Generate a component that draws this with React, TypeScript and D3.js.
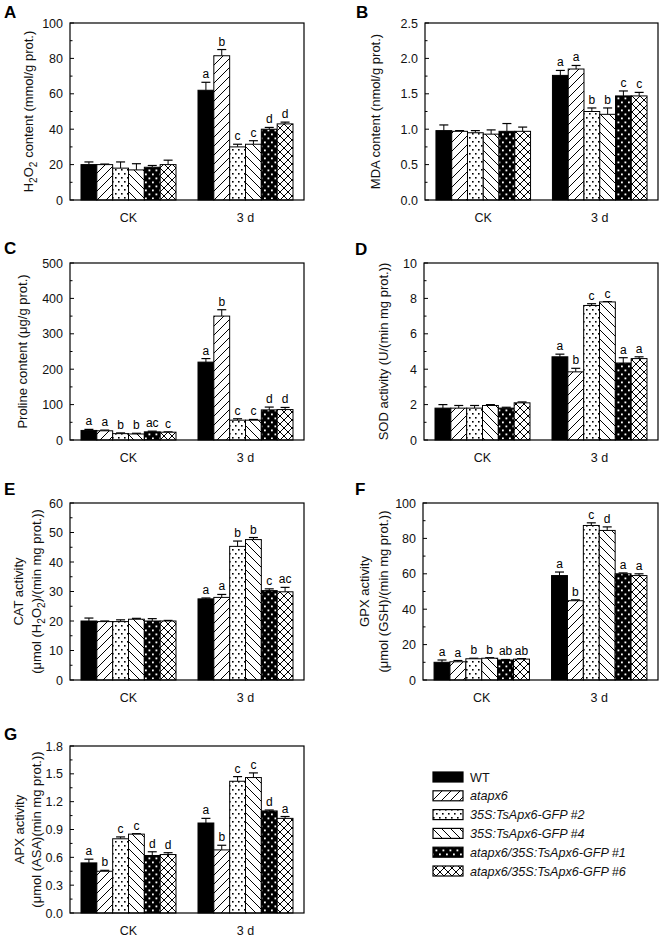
import React from "react";
import * as d3 from "d3";

const groups = ["CK", "3 d"];
const seriesNames = [
  "WT",
  "atapx6",
  "35S:TsApx6-GFP #2",
  "35S:TsApx6-GFP #4",
  "atapx6/35S:TsApx6-GFP #1",
  "atapx6/35S:TsApx6-GFP #6",
];

// A: H2O2
const h2o2Values = [[20, 20, 18, 17, 18.5, 20], [62, 81.5, 30, 31.5, 40, 43]];
const h2o2Errors = [[1.5, 0.3, 3.5, 3.5, 1, 2.5], [4.5, 3.5, 1.5, 2, 1, 1]];
const h2o2Letters = [["", "", "", "", "", ""], ["a", "b", "c", "c", "d", "d"]];
const h2o2Ticks = [0, 20, 40, 60, 80, 100];

// B: MDA
const mdaValues = [[0.98, 0.97, 0.95, 0.93, 0.97, 0.97], [1.76, 1.85, 1.25, 1.21, 1.47, 1.47]];
const mdaErrors = [[0.08, 0.01, 0.03, 0.06, 0.11, 0.06], [0.07, 0.05, 0.05, 0.09, 0.07, 0.05]];
const mdaLetters = [["", "", "", "", "", ""], ["a", "a", "b", "b", "c", "c"]];
const mdaTicks = [0, 0.5, 1.0, 1.5, 2.0, 2.5];

// C: Proline
const prolineValues = [[27, 26, 18, 17, 23, 22], [220, 350, 56, 56, 85, 86]];
const prolineErrors = [[3, 2, 2, 2, 2, 1], [10, 18, 4, 2, 8, 6]];
const prolineLetters = [["a", "a", "b", "b", "ac", "c"], ["a", "b", "c", "c", "d", "d"]];
const prolineTicks = [0, 100, 200, 300, 400, 500];

// D: SOD
const sodValues = [[1.8, 1.8, 1.8, 1.95, 1.8, 2.1], [4.7, 3.85, 7.6, 7.8, 4.35, 4.6]];
const sodErrors = [[0.2, 0.15, 0.15, 0.05, 0.05, 0.05], [0.15, 0.2, 0.1, 0.02, 0.3, 0.1]];
const sodLetters = [["", "", "", "", "", ""], ["a", "b", "c", "c", "a", "a"]];
const sodTicks = [0, 2, 4, 6, 8, 10];

// E: CAT
const catValues = [[20, 19.8, 19.8, 20.6, 20, 20], [27.5, 28, 45.3, 47.6, 30.3, 29.9]];
const catErrors = [[1, 0.2, 0.6, 0.3, 0.8, 0.2], [0.3, 1, 1.8, 0.7, 0.6, 1.5]];
const catLetters = [["", "", "", "", "", ""], ["a", "a", "b", "b", "c", "ac"]];
const catTicks = [0, 10, 20, 30, 40, 50, 60];

// F: GPX
const gpxValues = [[10, 10.3, 12, 12.3, 11.3, 11.8], [59, 44.8, 87.3, 84.5, 60, 59]];
const gpxErrors = [[1.3, 0.7, 0.3, 0.3, 0.3, 0.3], [2, 0.5, 1.5, 2, 0.5, 1]];
const gpxLetters = [["a", "a", "b", "b", "ab", "ab"], ["a", "b", "c", "d", "a", "a"]];
const gpxTicks = [0, 20, 40, 60, 80, 100];

// G: APX
const apxValues = [[0.54, 0.45, 0.8, 0.85, 0.62, 0.63], [0.97, 0.68, 1.42, 1.46, 1.1, 1.02]];
const apxErrors = [[0.04, 0.01, 0.02, 0.005, 0.04, 0.02], [0.05, 0.05, 0.05, 0.05, 0.01, 0.02]];
const apxLetters = [["a", "b", "c", "c", "d", "d"], ["a", "b", "c", "c", "d", "a"]];
const apxTicks = [0, 0.3, 0.6, 0.9, 1.2, 1.5, 1.8];

const FONT = "'Liberation Sans', Arial, Helvetica, sans-serif";
const fills = ["#000", "url(#pDiag)", "url(#pDots)", "url(#pBack)", "url(#pBDots)", "url(#pCross)"];

type Spec = {
  letter: string;
  lx: number;
  ly: number;
  x: number;
  y: number;
  w: number;
  h: number;
  ticks: number[];
  decimals: number;
  values: number[][];
  errors: number[][];
  letters: string[][];
  labels: { text: string; bx: number }[];
};

const specs: Spec[] = [
  { letter: "A", lx: 4, ly: 18, x: 70, y: 23, w: 234, h: 177, ticks: h2o2Ticks, decimals: 0, values: h2o2Values, errors: h2o2Errors, letters: h2o2Letters, labels: [{ text: "H_2O_2 content (mmol/g prot.)", bx: 33 }] },
  { letter: "B", lx: 356, ly: 18, x: 425, y: 23, w: 233, h: 177, ticks: mdaTicks, decimals: 1, values: mdaValues, errors: mdaErrors, letters: mdaLetters, labels: [{ text: "MDA content (nmol/g prot.)", bx: 380 }] },
  { letter: "C", lx: 4, ly: 254, x: 70, y: 263, w: 234, h: 177, ticks: prolineTicks, decimals: 0, values: prolineValues, errors: prolineErrors, letters: prolineLetters, labels: [{ text: "Proline content (μg/g prot.)", bx: 27 }] },
  { letter: "D", lx: 355, ly: 255, x: 424, y: 263, w: 234, h: 177, ticks: sodTicks, decimals: 0, values: sodValues, errors: sodErrors, letters: sodLetters, labels: [{ text: "SOD activity (U/(min mg prot.))", bx: 388 }] },
  { letter: "E", lx: 4, ly: 495, x: 70, y: 503, w: 234, h: 177, ticks: catTicks, decimals: 0, values: catValues, errors: catErrors, letters: catLetters, labels: [{ text: "CAT activity", bx: 23 }, { text: "(μmol (H_2O_2)/(min mg prot.))", bx: 41 }] },
  { letter: "F", lx: 355, ly: 495, x: 423, y: 503, w: 235, h: 177, ticks: gpxTicks, decimals: 0, values: gpxValues, errors: gpxErrors, letters: gpxLetters, labels: [{ text: "GPX activity", bx: 369 }, { text: "(μmol (GSH)/(min mg prot.))", bx: 388 }] },
  { letter: "G", lx: 4, ly: 740, x: 70, y: 746, w: 234, h: 167, ticks: apxTicks, decimals: 1, values: apxValues, errors: apxErrors, letters: apxLetters, labels: [{ text: "APX activity", bx: 24 }, { text: "(μmol (ASA)(min mg prot.))", bx: 41 }] },
];

const LABEL_SIZE = 13;
const TICK_SIZE = 12.5;

function RichText({ text, size }: { text: string; size: number }) {
  const parts: { t: string; sub: boolean }[] = [];
  let buf = "";
  for (let i = 0; i < text.length; i++) {
    if (text[i] === "_" && i + 1 < text.length) {
      if (buf) parts.push({ t: buf, sub: false });
      buf = "";
      parts.push({ t: text[i + 1], sub: true });
      i++;
    } else buf += text[i];
  }
  if (buf) parts.push({ t: buf, sub: false });
  let prevSub = false;
  return (
    <>
      {parts.map((p, i) => {
        let dy = 0;
        if (p.sub && !prevSub) dy = 3.5;
        if (!p.sub && prevSub) dy = -3.5;
        prevSub = p.sub;
        return (
          <tspan key={i} dy={dy || undefined} fontSize={p.sub ? size * 0.78 : size}>
            {p.t}
          </tspan>
        );
      })}
    </>
  );
}

function Panel({ s }: { s: Spec }) {
  const max = s.ticks[s.ticks.length - 1];
  const yS = d3.scaleLinear().domain([0, max]).range([s.y + s.h, s.y]);
  const x0 = d3.scaleBand<string>().domain(groups).range([s.x, s.x + s.w]).paddingInner(0.188).paddingOuter(0.094);
  const x1 = d3.scaleBand<number>().domain(d3.range(seriesNames.length)).range([0, x0.bandwidth()]);
  const step = s.ticks[1] - s.ticks[0];
  const minors = s.ticks.slice(0, -1).map((t) => t + step / 2);
  const fmt = d3.format(`.${s.decimals}f`);
  const bottom = s.y + s.h;
  return (
    <g>
      <text x={s.lx} y={s.ly} fontFamily={FONT} fontWeight="bold" fontSize={17}>
        {s.letter}
      </text>
      {groups.map((g, gi) => (
        <g key={g}>
          {seriesNames.map((_, si) => {
            const v = s.values[gi][si];
            const e = s.errors[gi][si];
            const bx = (x0(g) as number) + (x1(si) as number);
            const bw = x1.bandwidth();
            const cx = bx + bw / 2;
            const top = yS(v);
            const et = yS(v + e);
            const lt = s.letters[gi][si];
            return (
              <g key={si}>
                <line x1={cx} x2={cx} y1={top} y2={et} stroke="#000" strokeWidth={1} />
                <line x1={cx - 4.5} x2={cx + 4.5} y1={et} y2={et} stroke="#000" strokeWidth={1.2} />
                <rect x={bx} y={top} width={bw} height={bottom - top} fill={fills[si]} stroke="#000" strokeWidth={1} />
                {lt && (
                  <text x={cx} y={et - 4} textAnchor="middle" fontFamily={FONT} fontSize={12} fill="#000">
                    {lt}
                  </text>
                )}
              </g>
            );
          })}
          <text x={(x0(g) as number) + x0.bandwidth() / 2} y={bottom + 22} textAnchor="middle" fontFamily={FONT} fontSize={12.5} fill="#111">
            {g}
          </text>
        </g>
      ))}
      <rect x={s.x} y={s.y} width={s.w} height={s.h} fill="none" stroke="#000" strokeWidth={1.2} />
      {s.ticks.map((t) => (
        <g key={t}>
          <line x1={s.x} x2={s.x + 4} y1={yS(t)} y2={yS(t)} stroke="#000" strokeWidth={1} />
          <text x={s.x - 7} y={yS(t)} dy="0.36em" textAnchor="end" fontFamily={FONT} fontSize={TICK_SIZE} fill="#111">
            {fmt(t)}
          </text>
        </g>
      ))}
      {minors.map((t) => (
        <line key={t} x1={s.x} x2={s.x + 2.5} y1={yS(t)} y2={yS(t)} stroke="#000" strokeWidth={1} />
      ))}
      {s.labels.map((l, i) => (
        <text
          key={i}
          transform={`translate(${l.bx},${s.y + s.h / 2}) rotate(-90)`}
          textAnchor="middle"
          fontFamily={FONT}
          fontSize={LABEL_SIZE}
          fill="#111"
        >
          <RichText text={l.text} size={LABEL_SIZE} />
        </text>
      ))}
    </g>
  );
}

function Legend() {
  const lx = 433;
  const y0 = 777;
  const dy = 18.8;
  return (
    <g>
      {seriesNames.map((n, i) => {
        const cy = y0 + i * dy;
        return (
          <g key={n}>
            <rect x={lx} y={cy - 5} width={30} height={10} fill={fills[i]} stroke="#000" strokeWidth={1.2} />
            <text x={lx + 37} y={cy + 4.5} fontFamily={FONT} fontSize={12.6} fontStyle={i === 0 ? "normal" : "italic"} fill="#111">
              {n}
            </text>
          </g>
        );
      })}
    </g>
  );
}

export default function App() {
  return (
    <svg width={660} height={944} style={{ position: "absolute", left: 0, top: 0, display: "block", background: "#fff" }}>
      <defs>
        <pattern id="pDiag" patternUnits="userSpaceOnUse" width={9} height={9}>
          <rect width={9} height={9} fill="#fff" />
          <path d="M0,9 L9,0 M-2,2 L2,-2 M7,11 L11,7" stroke="#000" strokeWidth={1} />
        </pattern>
        <pattern id="pBack" patternUnits="userSpaceOnUse" width={9} height={9}>
          <rect width={9} height={9} fill="#fff" />
          <path d="M0,0 L9,9 M-2,7 L2,11 M7,-2 L11,2" stroke="#000" strokeWidth={1} />
        </pattern>
        <pattern id="pCross" patternUnits="userSpaceOnUse" width={8} height={8}>
          <rect width={8} height={8} fill="#fff" />
          <path d="M0,8 L8,0 M-2,2 L2,-2 M6,10 L10,6 M0,0 L8,8 M-2,6 L2,10 M6,-2 L10,2" stroke="#000" strokeWidth={1} />
        </pattern>
        <pattern id="pDots" patternUnits="userSpaceOnUse" width={6} height={8}>
          <rect width={6} height={8} fill="#fff" />
          <rect x={1} y={1} width={1.6} height={1.6} fill="#000" />
          <rect x={4} y={5} width={1.6} height={1.6} fill="#000" />
        </pattern>
        <pattern id="pBDots" patternUnits="userSpaceOnUse" width={7} height={8}>
          <rect width={7} height={8} fill="#000" />
          <rect x={1.5} y={1.5} width={1.8} height={1.8} fill="#fff" />
          <rect x={5} y={5.5} width={1.8} height={1.8} fill="#fff" />
        </pattern>
      </defs>
      {specs.map((s) => (
        <Panel key={s.letter} s={s} />
      ))}
      <Legend />
    </svg>
  );
}
